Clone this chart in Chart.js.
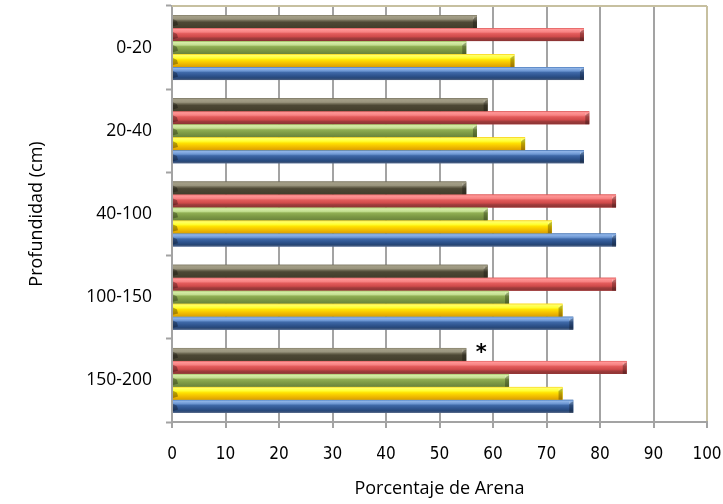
<!DOCTYPE html>
<html>
<head>
<meta charset="utf-8">
<script src="https://cdn.jsdelivr.net/npm/chart.js@4/dist/chart.umd.min.js"></script>
<style>
  html, body { margin: 0; padding: 0; background: #ffffff; }
  #wrap { width: 723px; height: 504px; }
</style>
</head>
<body>
<div id="wrap"><canvas id="c" width="723" height="504"></canvas></div>
<script>
// Soil depth classes (top to bottom)
const depths = ['0-20', '20-40', '40-100', '100-150', '150-200'];

// Sand percentage per profile, one value per depth class
const perfilA = [57, 59, 55, 59, 55];   // olive
const perfilB = [77, 78, 83, 83, 85];   // red
const perfilC = [55, 57, 59, 63, 63];   // green
const perfilD = [64, 66, 71, 73, 73];   // yellow
const perfilE = [77, 77, 83, 75, 75];   // blue

// Axis ticks for sand percentage
const sandTicks = [0, 10, 20, 30, 40, 50, 60, 70, 80, 90, 100];

// Value flagged with an asterisk (profile A, deepest layer)
const flaggedSeries = 0;
const flaggedDepth = '150-200';

// Bar shading: [stop, colour] pairs from the top edge of the bar to the bottom
const shading = [
  [[0, '#85806a'], [0.1, '#a39e87'], [0.3, '#9a957e'], [0.42, '#6f6a54'], [0.55, '#4d4835'], [1, '#423d2b']],
  [[0, '#e05a5a'], [0.1, '#ff9696'], [0.3, '#f78282'], [0.42, '#e35c5c'], [0.65, '#cf4a4a'], [0.78, '#a03c3c'], [1, '#8a3333']],
  [[0, '#9cc060'], [0.1, '#d6eca8'], [0.3, '#c3df90'], [0.42, '#91af54'], [0.65, '#7f9c46'], [1, '#6a833a']],
  [[0, '#f7d21a'], [0.1, '#ffff6a'], [0.3, '#ffff33'], [0.45, '#ffe200'], [0.65, '#f6c600'], [1, '#dc9e00']],
  [[0, '#4f7fbf'], [0.1, '#90b5e8'], [0.3, '#6c96d2'], [0.42, '#3f69a8'], [0.65, '#2f5590'], [0.85, '#264778'], [1, '#52627f']]
];
const baseColours = ['#5e5945', '#dd5555', '#8fae52', '#ffe000', '#3a64a4'];

const GRID = '#a3a3a3';
const FRAME = '#c7c0a0';

// Paints the bevelled look over each bar the controller has laid out
const bevelBars = {
  id: 'bevelBars',
  afterDatasetsDraw(chart) {
    const ctx = chart.ctx;
    chart.data.datasets.forEach((ds, i) => {
      const meta = chart.getDatasetMeta(i);
      if (meta.hidden) return;
      meta.data.forEach(el => {
        const p = el.getProps(['x', 'y', 'base', 'height'], true);
        const t = p.y - p.height / 2, b = p.y + p.height / 2;
        const l = Math.min(p.base, p.x), r = Math.max(p.base, p.x);
        const g = ctx.createLinearGradient(0, t, 0, b);
        shading[i].forEach(([s, c]) => g.addColorStop(s, c));
        ctx.save();
        ctx.fillStyle = g;
        ctx.fillRect(l, t, r - l, p.height);
        // right-hand end cap
        ctx.fillStyle = 'rgba(0,0,0,0.28)';
        ctx.beginPath();
        ctx.moveTo(r - 4, t + p.height * 0.3);
        ctx.lineTo(r, t + p.height * 0.1);
        ctx.lineTo(r, b);
        ctx.lineTo(r - 4, b);
        ctx.closePath();
        ctx.fill();
        ctx.fillStyle = 'rgba(255,255,255,0.25)';
        ctx.fillRect(r - 4, t + p.height * 0.12, 1, p.height * 0.2);
        // left-hand bevel
        ctx.fillStyle = 'rgba(0,0,0,0.3)';
        ctx.beginPath();
        ctx.moveTo(l, t + p.height * 0.3);
        ctx.lineTo(l + 4, t + p.height * 0.45);
        ctx.lineTo(l + 5, t + p.height * 0.75);
        ctx.lineTo(l, t + p.height * 0.85);
        ctx.closePath();
        ctx.fill();
        ctx.restore();
      });
    });
  }
};

// Frame on the top edge of the plot area and the asterisk note
const frameAndNote = {
  id: 'frameAndNote',
  afterDraw(chart) {
    const ctx = chart.ctx;
    const a = chart.chartArea;
    ctx.save();
    ctx.strokeStyle = FRAME;
    ctx.lineWidth = 2;
    ctx.beginPath();
    ctx.moveTo(a.left, a.top);
    ctx.lineTo(a.right, a.top);
    ctx.stroke();

    const idx = depths.indexOf(flaggedDepth);
    const el = chart.getDatasetMeta(flaggedSeries).data[idx];
    if (el) {
      ctx.fillStyle = '#000000';
      ctx.font = 'bold 21px "DejaVu Sans"';
      ctx.textAlign = 'center';
      ctx.textBaseline = 'middle';
      ctx.fillText('*', el.x + 15, el.y - 1);
    }
    ctx.restore();
  }
};

// Keep the plot area edges fixed regardless of tick label overhang
const noOverhang = s => { s.paddingLeft = 0; s.paddingRight = 0; s.paddingTop = 0; s.paddingBottom = 0; };

new Chart(document.getElementById('c'), {
  type: 'bar',
  data: {
    labels: depths,
    datasets: [
      { label: 'Perfil A', data: perfilA, backgroundColor: baseColours[0] },
      { label: 'Perfil B', data: perfilB, backgroundColor: baseColours[1] },
      { label: 'Perfil C', data: perfilC, backgroundColor: baseColours[2] },
      { label: 'Perfil D', data: perfilD, backgroundColor: baseColours[3] },
      { label: 'Perfil E', data: perfilE, backgroundColor: baseColours[4] }
    ]
  },
  options: {
    indexAxis: 'y',
    responsive: false,
    animation: false,
    devicePixelRatio: 1,
    datasets: { bar: { categoryPercentage: 0.78, barPercentage: 1.0, borderWidth: 0 } },
    layout: { padding: { top: 6, right: 16, left: 0, bottom: 0 } },
    plugins: { legend: { display: false }, tooltip: { enabled: false } },
    scales: {
      x: {
        type: 'linear',
        min: 0,
        max: 100,
        afterBuildTicks: s => { s.ticks = sandTicks.map(v => ({ value: v })); },
        afterFit: s => { s.height = 82; noOverhang(s); },
        grid: {
          color: c => (c.tick && c.tick.value === 100 ? FRAME : GRID),
          lineWidth: 2,
          drawTicks: true,
          tickLength: 6,
          tickColor: GRID,
          tickWidth: 2
        },
        border: { color: GRID, width: 2 },
        ticks: {
          color: '#000000',
          padding: 16,
          maxRotation: 0,
          autoSkip: false,
          font: { family: '"DejaVu Sans Condensed", "Liberation Sans Narrow", "Open Sans", sans-serif', size: 17 }
        },
        title: {
          display: true,
          text: 'Porcentaje de Arena',
          color: '#000000',
          padding: { top: 0, bottom: 4 },
          font: { family: '"Open Sans", sans-serif', size: 18 }
        }
      },
      y: {
        type: 'category',
        afterFit: s => { s.width = 172; noOverhang(s); },
        grid: {
          drawOnChartArea: false,
          drawTicks: true,
          tickLength: 6,
          tickColor: GRID,
          tickWidth: 2,
          offset: true
        },
        border: { color: GRID, width: 2 },
        ticks: {
          color: '#000000',
          padding: 14,
          font: { family: '"Open Sans", sans-serif', size: 17.5 }
        },
        title: {
          display: true,
          text: 'Profundidad (cm)',
          color: '#000000',
          padding: { top: 26, bottom: 0 },
          font: { family: '"Open Sans", sans-serif', size: 18 }
        }
      }
    }
  },
  plugins: [bevelBars, frameAndNote]
});
</script>
</body>
</html>
